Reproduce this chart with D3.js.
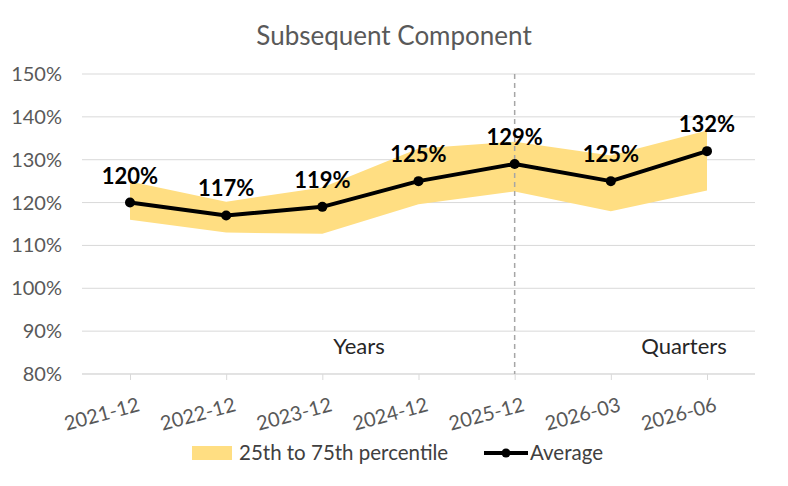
<!DOCTYPE html>
<html>
<head>
<meta charset="utf-8">
<script src="https://cdn.jsdelivr.net/npm/d3@7"></script>
<style>
  body { margin: 0; background: #fff; }
  svg { font-family: Lato, "Noto Sans", sans-serif; }
</style>
</head>
<body>
<svg id="chart" width="788" height="486"></svg>
<script>
const categories = ['2021-12', '2022-12', '2023-12', '2024-12', '2025-12', '2026-03', '2026-06'];
const average = [120, 117, 119, 125, 129, 125, 132];
const p25 = [116, 113, 112.7, 119.6, 122.6, 118, 122.8];
const p75 = [124.9, 120.2, 123.5, 132.6, 134.2, 131, 136.8];
const yTicks = [80, 90, 100, 110, 120, 130, 140, 150];

const svg = d3.select('#chart');
const margin = { left: 82, right: 33, top: 74, bottom: 112 };
const width = 788, height = 486;

const x = d3.scalePoint()
  .domain(categories)
  .range([130, 707]);
const y = d3.scaleLinear()
  .domain([80, 150])
  .range([374, 74]);

// title
svg.append('text')
  .attr('x', 394).attr('y', 45)
  .attr('text-anchor', 'middle')
  .attr('font-size', 26)
  .attr('fill', '#595959')
  .text('Subsequent Component');

// gridlines
svg.append('g')
  .selectAll('line')
  .data(yTicks)
  .join('line')
  .attr('x1', margin.left).attr('x2', width - margin.right)
  .attr('y1', d => y(d)).attr('y2', d => y(d))
  .attr('stroke', '#d9d9d9')
  .attr('stroke-width', 1);

// y labels
svg.append('g')
  .selectAll('text')
  .data(yTicks)
  .join('text')
  .attr('x', 62).attr('y', d => y(d))
  .attr('dy', '0.35em')
  .attr('text-anchor', 'end')
  .attr('font-size', 20)
  .attr('fill', '#595959')
  .text(d => d + '%');

// x axis
const xAxis = svg.append('g')
  .attr('transform', `translate(0,${y(80)})`)
  .call(d3.axisBottom(x).tickSize(6).tickSizeOuter(0).tickFormat(''));
xAxis.select('.domain').remove();
xAxis.selectAll('.tick line').attr('stroke', '#d9d9d9');
xAxis.append('line')
  .attr('x1', margin.left).attr('x2', width - margin.right)
  .attr('stroke', '#d9d9d9');

svg.append('g')
  .selectAll('text')
  .data(categories)
  .join('text')
  .attr('transform', d => `translate(${x(d) + 9},${y(80) + 30}) rotate(-15)`)
  .attr('text-anchor', 'end')
  .attr('dy', '0.35em')
  .attr('font-size', 20)
  .attr('fill', '#595959')
  .text(d => d);

// band
const bandData = categories.map((c, i) => ({ c, lo: p25[i], hi: p75[i] }));
svg.append('path')
  .datum(bandData)
  .attr('fill', '#ffde82')
  .attr('d', d3.area()
    .x(d => x(d.c))
    .y0(d => y(d.lo))
    .y1(d => y(d.hi)));

// divider
svg.append('line')
  .attr('x1', x('2025-12')).attr('x2', x('2025-12'))
  .attr('y1', y(150)).attr('y2', y(80))
  .attr('stroke', '#a6a6a6')
  .attr('stroke-width', 1.5)
  .attr('stroke-dasharray', '5,4');

svg.append('text')
  .attr('x', 359).attr('y', 354)
  .attr('text-anchor', 'middle')
  .attr('font-size', 22)
  .attr('fill', '#262626')
  .text('Years');
svg.append('text')
  .attr('x', 684).attr('y', 354)
  .attr('text-anchor', 'middle')
  .attr('font-size', 22)
  .attr('fill', '#262626')
  .text('Quarters');

// average line
const avgData = categories.map((c, i) => ({ c, v: average[i] }));
svg.append('path')
  .datum(avgData)
  .attr('fill', 'none')
  .attr('stroke', '#000')
  .attr('stroke-width', 4)
  .attr('stroke-linejoin', 'round')
  .attr('d', d3.line().x(d => x(d.c)).y(d => y(d.v)));

svg.append('g')
  .selectAll('circle')
  .data(avgData)
  .join('circle')
  .attr('cx', d => x(d.c)).attr('cy', d => y(d.v))
  .attr('r', 5)
  .attr('fill', '#000');

svg.append('g')
  .selectAll('text')
  .data(avgData)
  .join('text')
  .attr('x', d => x(d.c)).attr('y', d => y(d.v) - 19)
  .attr('text-anchor', 'middle')
  .attr('font-size', 22)
  .attr('font-weight', 'bold')
  .attr('fill', '#000')
  .text(d => d.v + '%');

// legend
const lg = svg.append('g');
lg.append('rect')
  .attr('x', 192).attr('y', 446).attr('width', 40).attr('height', 14)
  .attr('fill', '#ffde82');
lg.append('text')
  .attr('x', 239).attr('y', 453).attr('dy', '0.35em')
  .attr('font-size', 20.5).attr('fill', '#404040')
  .text('25th to 75th percentile');
lg.append('line')
  .attr('x1', 484).attr('x2', 528).attr('y1', 453).attr('y2', 453)
  .attr('stroke', '#000').attr('stroke-width', 4);
lg.append('circle')
  .attr('cx', 506).attr('cy', 453).attr('r', 4.5).attr('fill', '#000');
lg.append('text')
  .attr('x', 530).attr('y', 453).attr('dy', '0.35em')
  .attr('font-size', 20.5).attr('fill', '#404040')
  .text('Average');
</script>
</body>
</html>
